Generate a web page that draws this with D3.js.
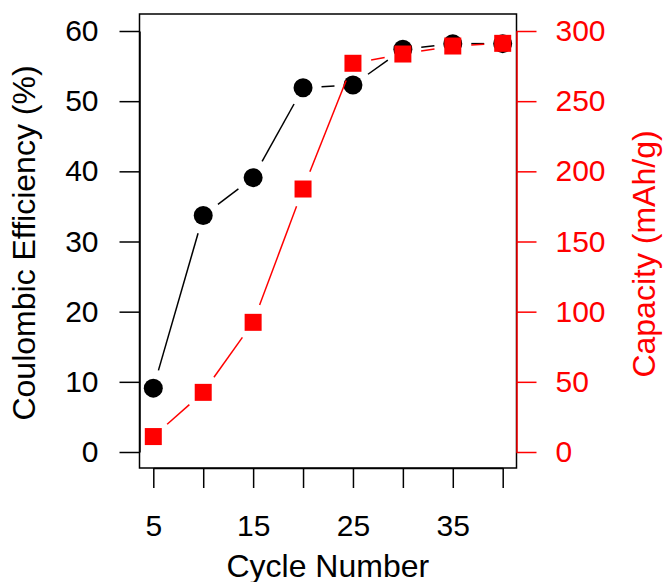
<!DOCTYPE html>
<html>
<head>
<meta charset="utf-8">
<script src="https://cdn.jsdelivr.net/npm/d3@7"></script>
<style>
  body { margin: 0; background: #fff; }
  svg text { font-family: "Liberation Sans", Arial, sans-serif; }
</style>
</head>
<body>
<div id="chart"></div>
<script>
// data
const cycles = [5, 10, 15, 20, 25, 30, 35, 40];
const efficiency = [9.1, 33.7, 39.1, 51.9, 52.3, 57.4, 58.2, 58.2];
const capacity = [11, 42.5, 92.4, 187.4, 277, 283.6, 289.3, 291.2];
const xTicks = [5, 10, 15, 20, 25, 30, 35, 40];
const xLabels = [5, 15, 25, 35];
const leftTicks = [0, 10, 20, 30, 40, 50, 60];
const rightTicks = [0, 50, 100, 150, 200, 250, 300];

const width = 666, height = 582;
const box = {left: 139.5, right: 516.5, top: 14, bottom: 468};

const svg = d3.select("#chart").append("svg")
  .attr("width", width)
  .attr("height", height);

// scales
const x = d3.scaleLinear().domain([5, 40]).range([153.3, 502.7]);
const yL = d3.scaleLinear().domain([0, 60]).range([452, 31]);
const yR = d3.scaleLinear().domain([0, 300]).range([452, 31]);

// plot box
svg.append("rect")
  .attr("x", box.left).attr("y", box.top)
  .attr("width", box.right - box.left).attr("height", box.bottom - box.top)
  .attr("fill", "none").attr("stroke", "#000").attr("stroke-width", 1.5);

// axes
const xAxis = d3.axisBottom(x).tickValues(xTicks)
  .tickFormat(d => xLabels.includes(d) ? d : "")
  .tickSize(20).tickSizeOuter(0).tickPadding(27);
const leftAxis = d3.axisLeft(yL).tickValues(leftTicks)
  .tickSize(20).tickSizeOuter(0).tickPadding(21);
const rightAxis = d3.axisRight(yR).tickValues(rightTicks)
  .tickSize(20).tickSizeOuter(0).tickPadding(19);

const gx = svg.append("g").attr("transform", "translate(0," + box.bottom + ")").call(xAxis);
const gl = svg.append("g").attr("transform", "translate(" + box.left + ",0)").call(leftAxis);
const gr = svg.append("g").attr("transform", "translate(" + box.right + ",0)").call(rightAxis);

[gx, gl].forEach(g => {
  g.selectAll("path, line").attr("stroke", "#000").attr("stroke-width", 1.5);
  g.selectAll("text").attr("fill", "#000").style("font-size", "30px");
});
gr.selectAll("path, line").attr("stroke", "red").attr("stroke-width", 1.5);
gr.selectAll("text").attr("fill", "red").style("font-size", "30px");

// axis titles
svg.append("text")
  .attr("x", 327.8).attr("y", 577)
  .attr("text-anchor", "middle")
  .style("font-size", "32px")
  .text("Cycle Number");

svg.append("text")
  .attr("transform", "translate(35,243) rotate(-90)")
  .attr("text-anchor", "middle")
  .style("font-size", "32px")
  .text("Coulombic Efficiency (%)");

svg.append("text")
  .attr("transform", "translate(655,254) rotate(-90)")
  .attr("text-anchor", "middle")
  .attr("fill", "red")
  .style("font-size", "32px")
  .text("Capacity (mAh/g)");

// lines with gaps around points (like R type = "b")
const gap = 18.5;
function gappedSegments(pts) {
  let segs = [];
  for (let i = 0; i < pts.length - 1; i++) {
    let [x1, y1] = pts[i], [x2, y2] = pts[i + 1];
    let dx = x2 - x1, dy = y2 - y1, len = Math.sqrt(dx * dx + dy * dy);
    if (len <= 2 * gap) continue;
    let ux = dx / len, uy = dy / len;
    segs.push([x1 + ux * gap, y1 + uy * gap, x2 - ux * gap, y2 - uy * gap]);
  }
  return segs;
}

function drawSeries(values, yScale, color, shape) {
  let pts = cycles.map((c, i) => [x(c), yScale(values[i])]);
  svg.append("g").selectAll("line")
    .data(gappedSegments(pts))
    .join("line")
    .attr("x1", d => d[0]).attr("y1", d => d[1])
    .attr("x2", d => d[2]).attr("y2", d => d[3])
    .attr("stroke", color).attr("stroke-width", 1.5);

  if (shape === "circle") {
    svg.append("g").selectAll("circle")
      .data(pts)
      .join("circle")
      .attr("cx", d => d[0]).attr("cy", d => d[1])
      .attr("r", 9.5).attr("fill", color);
  } else {
    const s = 17;
    svg.append("g").selectAll("rect")
      .data(pts)
      .join("rect")
      .attr("x", d => d[0] - s / 2).attr("y", d => d[1] - s / 2)
      .attr("width", s).attr("height", s).attr("fill", color);
  }
}

drawSeries(efficiency, yL, "#000", "circle");
drawSeries(capacity, yR, "red", "square");
</script>
</body>
</html>
